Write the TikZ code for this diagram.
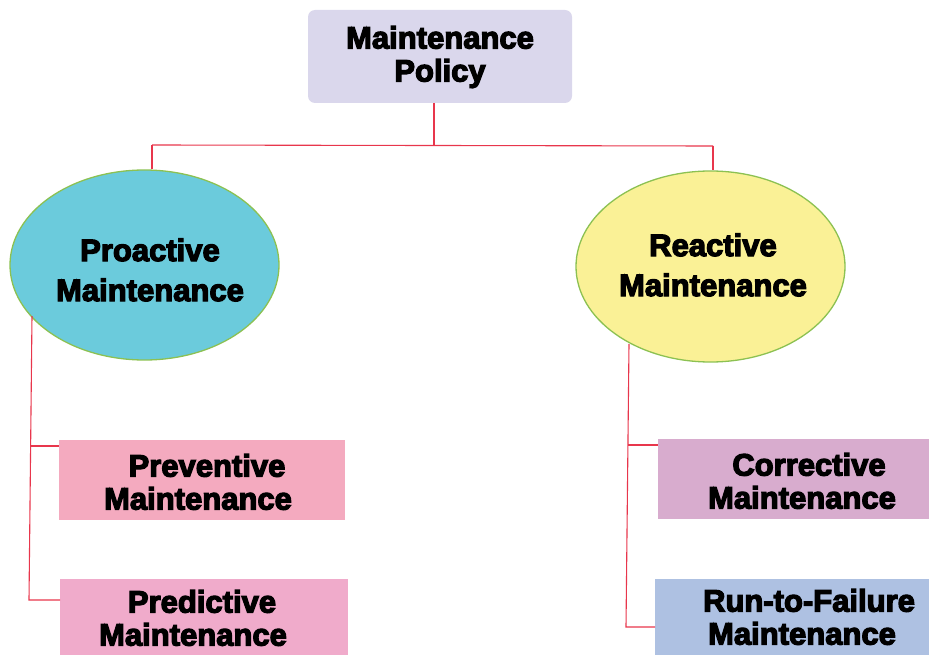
\documentclass[tikz,border=0pt]{standalone}
\usepackage{fontspec}
\setmainfont{Liberation Sans}[BoldFeatures={FakeBold=4}]
\usetikzlibrary{shapes.geometric}
\definecolor{linkred}{HTML}{E8364C}
\definecolor{rimgreen}{HTML}{8CC152}
\definecolor{policyfill}{HTML}{DAD7EC}
\definecolor{proactfill}{HTML}{6BCBDC}
\definecolor{reactfill}{HTML}{FAF196}
\definecolor{prevfill}{HTML}{F4AABF}
\definecolor{predfill}{HTML}{F0ABCB}
\definecolor{corrfill}{HTML}{D8ACCE}
\definecolor{runfill}{HTML}{AEC1E2}
\tikzset{
  link/.style={draw=linkred, line width=1.1pt},
  label/.style={font=\fontsize{31}{33}\selectfont\bfseries, align=center, text=black},
  ovallabel/.style={label, font=\fontsize{31}{40}\selectfont\bfseries},
  oval/.style={ellipse, draw=rimgreen, line width=1.3pt, inner sep=0pt},
  leaf/.style={rectangle, inner sep=0pt, anchor=north west},
}
\begin{document}
\begin{tikzpicture}[x=1pt, y=-1pt]
\useasboundingbox (0,0) rectangle (929,655);
% top policy box
\fill[policyfill, rounded corners=7pt] (308,10) rectangle (572,103);
\node[label] (policy) at (440,57) {Maintenance\\Policy};
\coordinate (pbot) at (434,103);
% the two main ovals
\node[oval, fill=proactfill, minimum width=269pt, minimum height=190pt] (pro) at (144.5,265) {};
\node[ovallabel] (protxt) at (150,270) {Proactive\\Maintenance};
\node[oval, fill=reactfill, minimum width=269pt, minimum height=191pt] (rea) at (710.5,266.5) {};
\node[ovallabel] (reatxt) at (713,265) {Reactive\\Maintenance};
% leaf boxes
\node[leaf, fill=prevfill, minimum width=286pt, minimum height=80pt] (prev) at (59,440) {};
\node[label] at (198,482) {\hspace*{18pt}Preventive\\Maintenance};
\node[leaf, fill=predfill, minimum width=288pt, minimum height=76pt] (pred) at (60,579) {};
\node[label] at (193,618) {\hspace*{18pt}Predictive\\Maintenance};
\node[leaf, fill=corrfill, minimum width=271pt, minimum height=80pt] (corr) at (658,439) {};
\node[label] at (802,481) {\hspace*{14pt}Corrective\\Maintenance};
\node[leaf, fill=runfill, minimum width=274pt, minimum height=76pt] (run) at (655,579) {};
\node[label] at (802,617) {\hspace*{14pt}Run-to-Failure\\Maintenance};
% connectors
\coordinate (split) at (434,145);
\coordinate (lefttop) at (152,145);
\coordinate (righttop) at (713,146);
\draw[link] (pbot) -- (split);
\draw[link] (lefttop) -- (righttop);
\draw[link] (lefttop) -- (pro.north -| lefttop);
\draw[link] (righttop) -- (rea.north -| righttop);
\coordinate (lstart) at (32,316);
\coordinate (lmid) at (30.5,446);
\coordinate (lend) at (29,600);
\draw[link] (lstart) -- (lend) -- (lend -| pred.west);
\draw[link] (lmid) -- (lmid -| prev.west);
\coordinate (rstart) at (629,344);
\coordinate (rmid) at (628,445);
\coordinate (rend) at (626,627);
\draw[link] (rstart) -- (rend) -- (rend -| run.west);
\draw[link] (rmid) -- (rmid -| corr.west);
\end{tikzpicture}
\end{document}
